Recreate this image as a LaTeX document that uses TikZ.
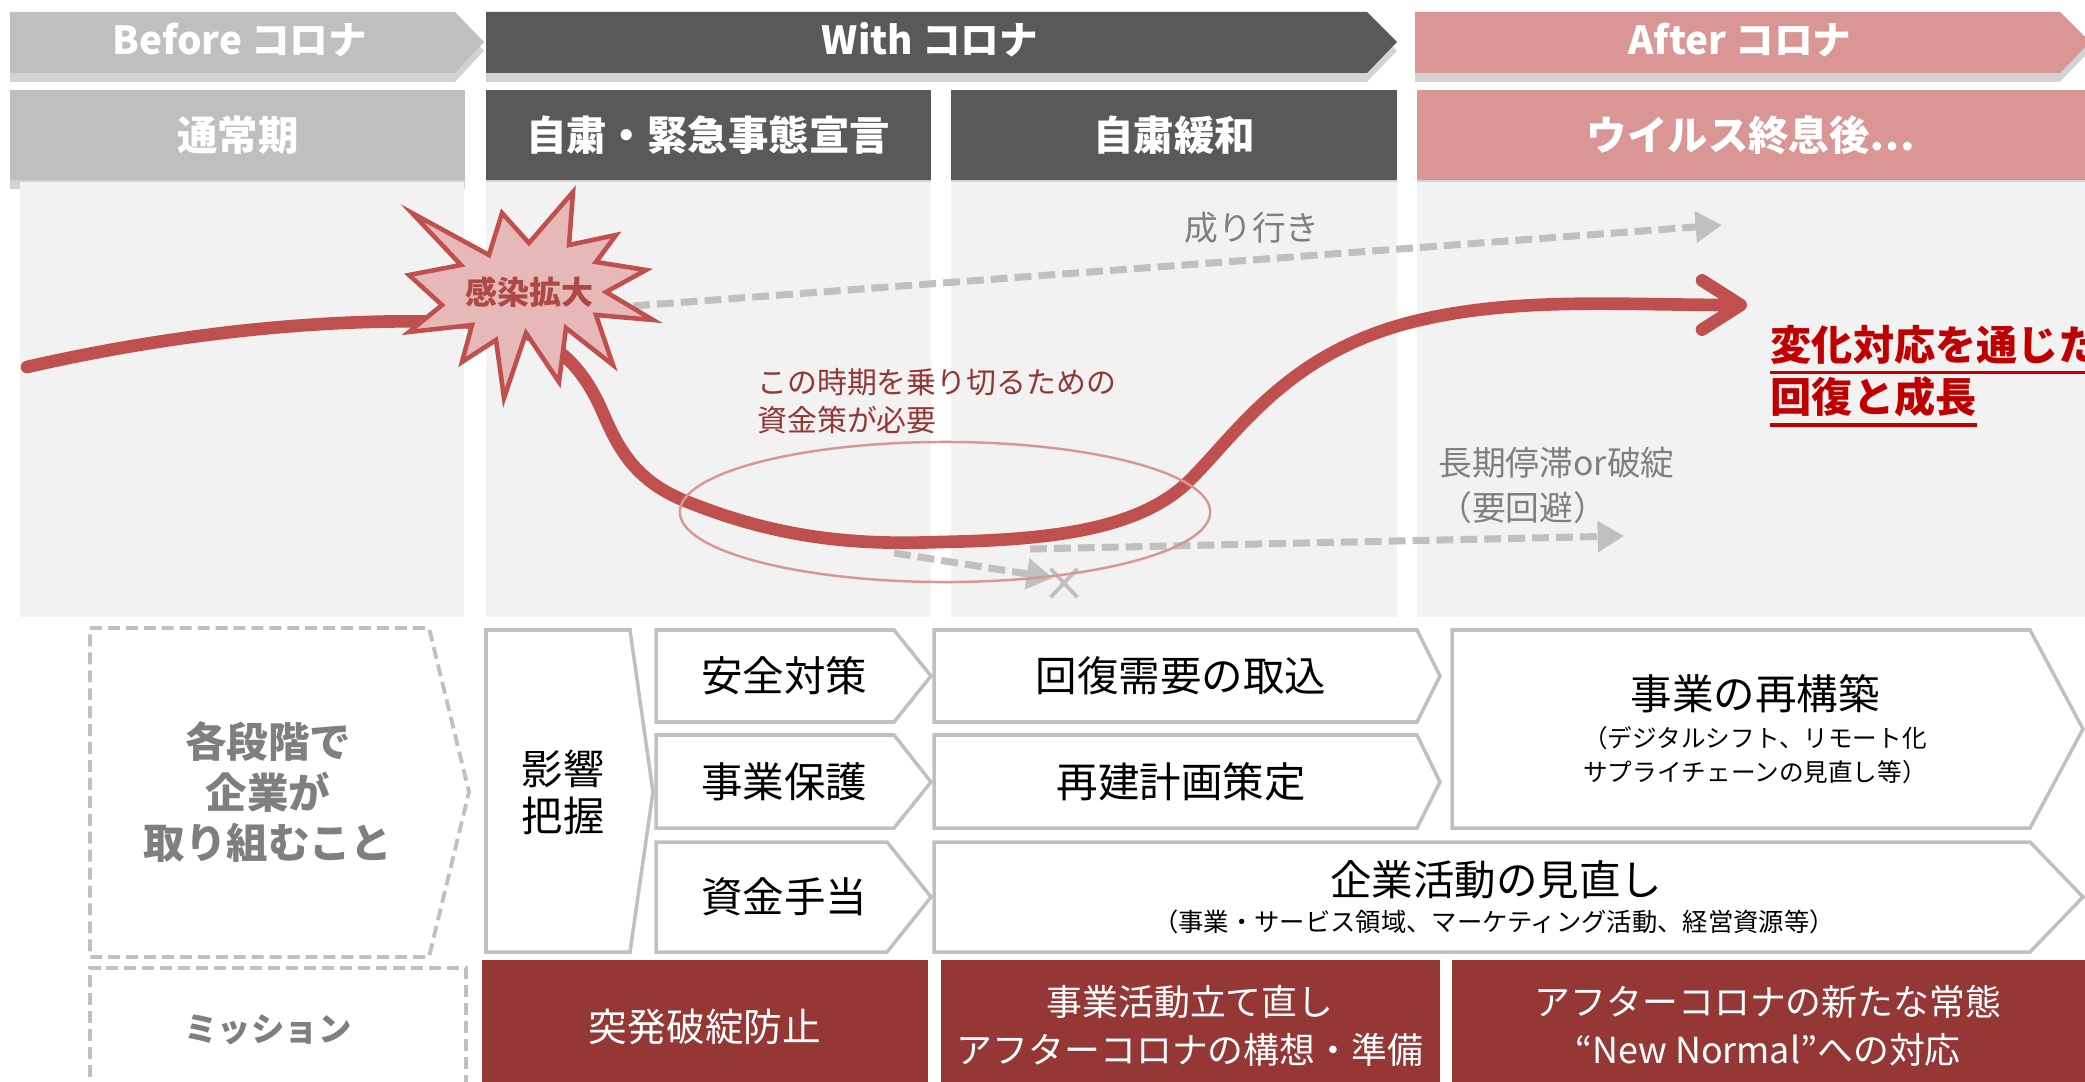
\documentclass[tikz,border=0pt]{standalone}
\usepackage{fontspec}
\setmainfont{Noto Sans CJK JP}
\usetikzlibrary{arrows.meta,shapes.misc,shadows}

\definecolor{beforegray}{HTML}{BFBFBF}
\definecolor{withgray}{HTML}{595959}
\definecolor{afterpink}{HTML}{D99694}
\definecolor{bggray}{HTML}{F2F2F2}
\definecolor{curvered}{HTML}{C0504D}
\definecolor{burstfill}{HTML}{E6B9B8}
\definecolor{notered}{HTML}{943634}
\definecolor{missionred}{HTML}{953735}
\definecolor{goalred}{HTML}{C00000}
\definecolor{linegray}{HTML}{C0C0C0}
\definecolor{textgray}{HTML}{7F7F7F}

\begin{document}
\begin{tikzpicture}[x=0.01cm,y=-0.01cm,
  phasebox/.style={drop shadow={shadow xshift=0pt,shadow yshift=-2.5pt,opacity=.35}},
  headtext/.style={text=white,font=\bfseries\fontsize{11pt}{13pt}\selectfont},
  periodtext/.style={text=white,font=\bfseries\fontsize{11.5pt}{14pt}\selectfont},
  trend/.style={draw=linegray,line width=2pt,dash pattern=on 4.8pt off 2pt,-{Triangle[length=7.5pt,width=8.5pt]}},
  recovery/.style={draw=curvered,line width=3.6pt,line cap=round,-{Straight Barb[length=11pt,width=14pt,round]}},
  stepbox/.style={draw=linegray,line width=1pt,fill=white},
  steptext/.style={align=center,font=\fontsize{11.8pt}{14pt}\selectfont},
  subtext/.style={align=center,font=\fontsize{7pt}{9.7pt}\selectfont},
  missiontext/.style={text=white,align=center,font=\fontsize{10.2pt}{13.7pt}\selectfont},
  guidebox/.style={draw=linegray,line width=1.1pt,dash pattern=on 3.4pt off 1.7pt},
  guidetext/.style={text=textgray,align=center,font=\bfseries\fontsize{11.8pt}{14.3pt}\selectfont},
  graytext/.style={text=textgray,align=left,font=\fontsize{9.6pt}{12.8pt}\selectfont}
]
\useasboundingbox (0,0) rectangle (2085,1082);

% phases
\path[phasebox,fill=beforegray] (10,12) -- (455,12) -- (484,42) -- (455,73) -- (10,73) -- cycle;
\path[phasebox,fill=withgray] (486,12) -- (1367,12) -- (1397,42) -- (1367,73) -- (486,73) -- cycle;
\path[phasebox,fill=afterpink] (1415,12) -- (2060,12) -- (2090,42) -- (2060,73) -- (1415,73) -- cycle;
\node[headtext] (before) at (240,40) {Before コロナ};
\node[headtext] (with) at (930,40) {With コロナ};
\node[headtext] (after) at (1740,40) {After コロナ};

\path[phasebox,fill=beforegray] (10,90) rectangle (465,180);
\path[phasebox,fill=withgray] (486,90) rectangle (931,180);
\path[phasebox,fill=withgray] (951,90) rectangle (1397,180);
\path[phasebox,fill=afterpink] (1417,90) rectangle (2090,180);
\node[periodtext] (normal) at (238,135) {通常期};
\node[periodtext] (lockdown) at (708,135) {自粛・緊急事態宣言};
\node[periodtext] (easing) at (1174,135) {自粛緩和};
\node[periodtext] (postvirus) at (1751,135) {ウイルス終息後…};

% chart area
\fill[bggray] (20,182) rectangle (464,617);
\fill[bggray] (486,182) rectangle (931,617);
\fill[bggray] (951,182) rectangle (1397,617);
\fill[bggray] (1417,182) rectangle (2090,617);

\coordinate (trendstart) at (633,306);
\coordinate (trendend) at (1722,225);
\coordinate (crashstart) at (894,553);
\coordinate (crashend) at (1053,578);
\coordinate (stallstart) at (1030,549);
\coordinate (stallend) at (1624,536);
\draw[trend] (trendstart) -- (trendend);
\draw[trend] (crashstart) -- (crashend);
\draw[trend] (stallstart) -- (stallend);
\node[cross out,draw=linegray,line width=1.1pt,minimum width=6.5pt,minimum height=7pt,inner sep=0pt] (fail) at (1064,583) {};

\coordinate (pre) at (27,367);
\coordinate (hit) at (450,322);
\coordinate (low) at (940,542);
\coordinate (recover) at (1747,305);
\draw[recovery] (pre) .. controls (180,332) and (330,318) .. (hit)
  .. controls (540,322) and (578,355) .. (603,413)
  .. controls (618,448) and (635,480) .. (683,500)
  .. controls (780,540) and (860,545) .. (low)
  .. controls (1050,540) and (1140,530) .. (1190,480)
  .. controls (1240,430) and (1290,350) .. (1420,320)
  .. controls (1520,297) and (1620,305) .. (recover);

% burst
\draw[fill=burstfill,draw=curvered,line width=1.3pt,line join=miter]
  (573,192) -- (569,245) -- (616,235) -- (596,262) -- (646,270) -- (606,292)
  -- (653,320) -- (596,315) -- (613,365) -- (566,328) -- (559,382) -- (526,333)
  -- (504,398) -- (496,340) -- (462,362) -- (472,325) -- (409,332) -- (442,305)
  -- (409,275) -- (461,265) -- (412,213) -- (489,255) -- (502,213) -- (529,243) -- cycle;
\node[text=curvered!90!black,font=\bfseries\fontsize{9.1pt}{11pt}\selectfont] (burst) at (529,292) {感染拡大};

\node[graytext] (trendlabel) at (1252,228) {成り行き};
\node[graytext,anchor=west] (stalllabel) at (1426,485) {長期停滞or破綻\\（要回避）};
\node[anchor=west,align=left,text=notered,font=\fontsize{8.5pt}{10.8pt}\selectfont] (fundnote) at (745,401) {この時期を乗り切るための\\資金策が必要};
\draw[draw=afterpink,line width=0.7pt] (945,512) ellipse [x radius=2.65cm,y radius=0.7cm];

\node[anchor=west,inner sep=0pt,text=goalred,font=\bfseries\fontsize{11.7pt}{14pt}\selectfont] (goalA) at (1770,345) {変化対応を通じた};
\node[anchor=west,inner sep=0pt,text=goalred,font=\bfseries\fontsize{11.7pt}{14pt}\selectfont] (goalB) at (1770,397) {回復と成長};
\draw[goalred,line width=0.9pt] ([yshift=-2pt]goalA.south west) -- ([yshift=-2pt]goalA.south east);
\draw[goalred,line width=0.9pt] ([yshift=-2pt]goalB.south west) -- ([yshift=-2pt]goalB.south east);

% what firms do
\draw[guidebox] (90,628) -- (429,628) -- (469,792) -- (429,957) -- (90,957) -- cycle;
\node[guidetext] (guide) at (268,792) {各段階で\\企業が\\取り組むこと};
\draw[guidebox] (90,1095) -- (90,968) -- (466,968) -- (466,1095);
\node[guidetext,font=\bfseries\fontsize{9.5pt}{11pt}\selectfont] (mission) at (268,1030) {ミッション};

\draw[stepbox] (486,630) -- (630,630) -- (653,792) -- (630,952) -- (486,952) -- cycle;
\node[steptext,font=\fontsize{11.7pt}{13.4pt}\selectfont] (impact) at (563,792) {影響\\把握};

\draw[stepbox] (656,630) -- (894,630) -- (931,676) -- (894,722) -- (656,722) -- cycle;
\draw[stepbox] (656,735) -- (894,735) -- (931,782) -- (894,828) -- (656,828) -- cycle;
\draw[stepbox] (656,842) -- (887,842) -- (931,897) -- (887,952) -- (656,952) -- cycle;
\node[steptext] (safety) at (784,676) {安全対策};
\node[steptext] (protect) at (784,782) {事業保護};
\node[steptext] (funding) at (784,897) {資金手当};

\draw[stepbox] (934,630) -- (1417,630) -- (1440,676) -- (1417,722) -- (934,722) -- cycle;
\draw[stepbox] (934,735) -- (1417,735) -- (1440,782) -- (1417,828) -- (934,828) -- cycle;
\node[steptext] (demand) at (1181,676) {回復需要の取込};
\node[steptext] (rebuild) at (1181,782) {再建計画策定};

\draw[stepbox] (1452,630) -- (2030,630) -- (2083,729) -- (2030,828) -- (1452,828) -- cycle;
\node[steptext] (restructure) at (1755,694) {事業の再構築};
\node[subtext] (restructuresub) at (1755,755) {（デジタルシフト、リモート化\\サプライチェーンの見直し等）};

\draw[stepbox] (934,842) -- (2030,842) -- (2083,897) -- (2030,952) -- (934,952) -- cycle;
\node[steptext] (review) at (1496,880) {企業活動の見直し};
\node[subtext,font=\fontsize{7.2pt}{9pt}\selectfont] (reviewsub) at (1494,922) {（事業・サービス領域、マーケティング活動、経営資源等）};

% missions
\fill[missionred] (482,960) rectangle (928,1095);
\fill[missionred] (941,960) rectangle (1440,1095);
\fill[missionred] (1452,960) rectangle (2090,1095);
\node[missiontext,font=\fontsize{11pt}{13pt}\selectfont] (prevent) at (705,1027) {突発破綻防止};
\node[missiontext] (restart) at (1190,1026) {事業活動立て直し\\アフターコロナの構想・準備};
\node[missiontext] (newnormal) at (1768,1026) {アフターコロナの新たな常態\\“New Normal”への対応};
\end{tikzpicture}
\end{document}
